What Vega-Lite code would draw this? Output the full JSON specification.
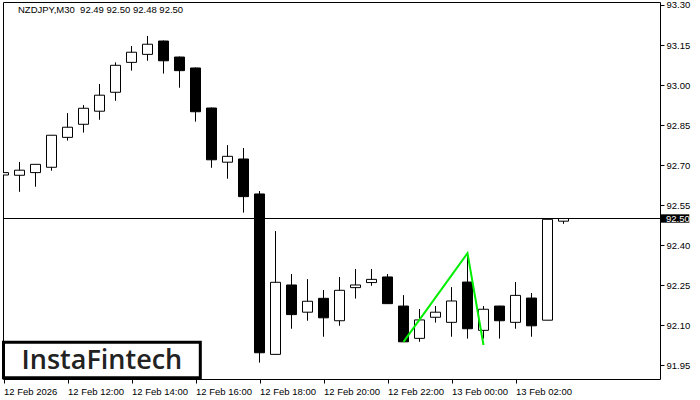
{
  "$schema": "https://vega.github.io/schema/vega-lite/v6.json",
  "width": 657,
  "height": 377,
  "autosize": {"type": "none"},
  "padding": {"left": 3, "top": 2, "right": 40, "bottom": 21},
  "background": "white",
  "config": {"view": {"stroke": "black", "strokeWidth": 1}, "font": "Liberation Sans"},
  "title": {"text": "NZDJPY,M30\u00a0\u00a092.49 92.50 92.48 92.50", "anchor": "start", "frame": "group", "orient": "top", "offset": -15, "dx": 15, "fontSize": 9.5, "fontWeight": "normal", "color": "black", "font": "Liberation Sans"},
  "datasets": {
    "candles": [
      {"t": "2026-02-12T10:00:00Z", "open": 92.663, "high": 92.694, "low": 92.559, "close": 92.672},
      {"t": "2026-02-12T10:30:00Z", "open": 92.662, "high": 92.712, "low": 92.600, "close": 92.681},
      {"t": "2026-02-12T11:00:00Z", "open": 92.672, "high": 92.704, "low": 92.619, "close": 92.703},
      {"t": "2026-02-12T11:30:00Z", "open": 92.692, "high": 92.813, "low": 92.679, "close": 92.812},
      {"t": "2026-02-12T12:00:00Z", "open": 92.804, "high": 92.895, "low": 92.792, "close": 92.842},
      {"t": "2026-02-12T12:30:00Z", "open": 92.853, "high": 92.925, "low": 92.822, "close": 92.913},
      {"t": "2026-02-12T13:00:00Z", "open": 92.902, "high": 93.004, "low": 92.870, "close": 92.962},
      {"t": "2026-02-12T13:30:00Z", "open": 92.973, "high": 93.085, "low": 92.941, "close": 93.074},
      {"t": "2026-02-12T14:00:00Z", "open": 93.085, "high": 93.146, "low": 93.054, "close": 93.123},
      {"t": "2026-02-12T14:30:00Z", "open": 93.115, "high": 93.184, "low": 93.091, "close": 93.153},
      {"t": "2026-02-12T15:00:00Z", "open": 93.165, "high": 93.167, "low": 93.043, "close": 93.091},
      {"t": "2026-02-12T15:30:00Z", "open": 93.105, "high": 93.107, "low": 92.990, "close": 93.054},
      {"t": "2026-02-12T16:00:00Z", "open": 93.064, "high": 93.066, "low": 92.863, "close": 92.900},
      {"t": "2026-02-12T16:30:00Z", "open": 92.914, "high": 92.916, "low": 92.690, "close": 92.720},
      {"t": "2026-02-12T17:00:00Z", "open": 92.711, "high": 92.775, "low": 92.649, "close": 92.733},
      {"t": "2026-02-12T17:30:00Z", "open": 92.723, "high": 92.764, "low": 92.522, "close": 92.582},
      {"t": "2026-02-12T18:00:00Z", "open": 92.592, "high": 92.603, "low": 91.960, "close": 91.997},
      {"t": "2026-02-12T18:30:00Z", "open": 91.991, "high": 92.453, "low": 91.989, "close": 92.261},
      {"t": "2026-02-12T19:00:00Z", "open": 92.251, "high": 92.292, "low": 92.087, "close": 92.140},
      {"t": "2026-02-12T19:30:00Z", "open": 92.149, "high": 92.273, "low": 92.117, "close": 92.190},
      {"t": "2026-02-12T20:00:00Z", "open": 92.201, "high": 92.232, "low": 92.057, "close": 92.128},
      {"t": "2026-02-12T20:30:00Z", "open": 92.117, "high": 92.281, "low": 92.098, "close": 92.231},
      {"t": "2026-02-12T21:00:00Z", "open": 92.241, "high": 92.311, "low": 92.200, "close": 92.251},
      {"t": "2026-02-12T21:30:00Z", "open": 92.260, "high": 92.311, "low": 92.248, "close": 92.272},
      {"t": "2026-02-12T22:00:00Z", "open": 92.281, "high": 92.292, "low": 92.180, "close": 92.181},
      {"t": "2026-02-12T22:30:00Z", "open": 92.172, "high": 92.213, "low": 92.037, "close": 92.038},
      {"t": "2026-02-12T23:00:00Z", "open": 92.051, "high": 92.161, "low": 92.038, "close": 92.120},
      {"t": "2026-02-12T23:30:00Z", "open": 92.130, "high": 92.172, "low": 92.110, "close": 92.149},
      {"t": "2026-02-13T00:00:00Z", "open": 92.111, "high": 92.243, "low": 92.057, "close": 92.191},
      {"t": "2026-02-13T00:30:00Z", "open": 92.262, "high": 92.363, "low": 92.050, "close": 92.087},
      {"t": "2026-02-13T01:00:00Z", "open": 92.081, "high": 92.172, "low": 92.050, "close": 92.160},
      {"t": "2026-02-13T01:30:00Z", "open": 92.172, "high": 92.173, "low": 92.050, "close": 92.117},
      {"t": "2026-02-13T02:00:00Z", "open": 92.111, "high": 92.262, "low": 92.087, "close": 92.212},
      {"t": "2026-02-13T02:30:00Z", "open": 92.202, "high": 92.221, "low": 92.057, "close": 92.098},
      {"t": "2026-02-13T03:00:00Z", "open": 92.119, "high": 92.500, "low": 92.119, "close": 92.497},
      {"t": "2026-02-13T03:30:00Z", "open": 92.490, "high": 92.500, "low": 92.480, "close": 92.500}
    ],
    "pattern": [
      {"t": "2026-02-12T22:30:00Z", "p": 92.038},
      {"t": "2026-02-13T00:30:00Z", "p": 92.370},
      {"t": "2026-02-13T01:00:00Z", "p": 92.026}
    ]
  },
  "layer": [
    {
      "data": {"name": "candles"},
      "mark": {"type": "rule", "color": "black", "strokeWidth": 1, "clip": true},
      "encoding": {
        "x": {
          "field": "t", "type": "temporal", "title": null,
          "scale": {"type": "utc", "padding": 0, "nice": false, "domain": [
            {"year": 2026, "month": 2, "date": 12, "hours": 9, "minutes": 59, "seconds": 3, "milliseconds": 750, "utc": true},
            {"year": 2026, "month": 2, "date": 13, "hours": 6, "minutes": 30, "seconds": 56, "milliseconds": 250, "utc": true}
          ]},
          "axis": {
            "orient": "bottom", "title": null, "grid": false, "domain": false,
            "values": [
              {"year": 2026, "month": 2, "date": 12, "hours": 10, "utc": true},
              {"year": 2026, "month": 2, "date": 12, "hours": 12, "utc": true},
              {"year": 2026, "month": 2, "date": 12, "hours": 14, "utc": true},
              {"year": 2026, "month": 2, "date": 12, "hours": 16, "utc": true},
              {"year": 2026, "month": 2, "date": 12, "hours": 18, "utc": true},
              {"year": 2026, "month": 2, "date": 12, "hours": 20, "utc": true},
              {"year": 2026, "month": 2, "date": 12, "hours": 22, "utc": true},
              {"year": 2026, "month": 2, "date": 13, "hours": 0, "utc": true},
              {"year": 2026, "month": 2, "date": 13, "hours": 2, "utc": true}
            ],
            "labelExpr": "utchours(datum.value) == 10 ? '12 Feb 2026' : utcFormat(datum.value, '%d %b %H:%M')",
            "labelAlign": "left", "labelBaseline": "top", "labelPadding": 3,
            "tickSize": 4, "tickColor": "black", "labelColor": "black",
            "labelFontSize": 9.5, "labelFont": "Liberation Sans",
            "labelOverlap": false, "labelFlush": false
          }
        },
        "y": {
          "field": "low", "type": "quantitative", "title": null,
          "scale": {"domain": [91.8987, 93.3112], "nice": false, "zero": false, "padding": 0},
          "axis": {
            "orient": "right", "title": null, "grid": false, "domain": false,
            "values": [91.95, 92.1, 92.25, 92.4, 92.55, 92.7, 92.85, 93.0, 93.15, 93.3],
            "format": ".2f", "tickSize": 4, "tickColor": "black", "labelColor": "black",
            "labelPadding": 2, "labelFontSize": 9.5, "labelFont": "Liberation Sans",
            "labelBaseline": "middle", "labelOverlap": false, "labelFlush": false
          }
        },
        "y2": {"field": "high"}
      }
    },
    {
      "data": {"name": "candles"},
      "mark": {"type": "bar", "width": 10, "stroke": "black", "strokeWidth": 1, "clip": true},
      "encoding": {
        "x": {"field": "t", "type": "temporal", "title": null},
        "y": {"field": "open", "type": "quantitative", "title": null},
        "y2": {"field": "close"},
        "fill": {"condition": {"test": "datum.close > datum.open", "value": "white"}, "value": "black"}
      }
    },
    {
      "data": {"values": [{"price": 92.5, "label": "92.50"}]},
      "mark": {"type": "rule", "color": "black", "strokeWidth": 1},
      "encoding": {
        "y": {"field": "price", "type": "quantitative", "title": null}
      }
    },
    {
      "data": {"values": [{"price": 92.5, "label": "92.50"}]},
      "mark": {"type": "rect", "fill": "black", "clip": false},
      "encoding": {
        "x": {"datum": {"year": 2026, "month": 2, "date": 13, "hours": 6, "minutes": 32, "seconds": 49, "utc": true}, "type": "temporal", "title": null},
        "x2": {"datum": {"year": 2026, "month": 2, "date": 13, "hours": 7, "minutes": 25, "seconds": 52, "utc": true}},
        "y": {"datum": 92.5157, "type": "quantitative", "title": null},
        "y2": {"datum": 92.4843}
      }
    },
    {
      "data": {"values": [{"price": 92.5, "label": "92.50"}]},
      "mark": {"type": "text", "color": "white", "align": "left", "baseline": "middle", "fontSize": 9.5, "font": "Liberation Sans", "clip": false},
      "encoding": {
        "x": {"datum": {"year": 2026, "month": 2, "date": 13, "hours": 6, "minutes": 42, "seconds": 12, "utc": true}, "type": "temporal", "title": null},
        "y": {"field": "price", "type": "quantitative", "title": null},
        "text": {"field": "label"}
      }
    },
    {
      "data": {"name": "pattern"},
      "mark": {"type": "line", "color": "#00ee00", "strokeWidth": 2, "clip": true},
      "encoding": {
        "x": {"field": "t", "type": "temporal", "title": null},
        "y": {"field": "p", "type": "quantitative", "title": null}
      }
    },
    {
      "data": {"values": [{"label": "InstaFintech"}]},
      "mark": {"type": "rect", "fill": "white", "stroke": "black", "strokeWidth": 3, "clip": false},
      "encoding": {
        "x": {"datum": {"year": 2026, "month": 2, "date": 12, "hours": 10, "minutes": 0, "utc": true}, "type": "temporal", "title": null},
        "x2": {"datum": {"year": 2026, "month": 2, "date": 12, "hours": 16, "minutes": 9, "utc": true}},
        "y": {"datum": 92.0366, "type": "quantitative", "title": null},
        "y2": {"datum": 91.9036}
      }
    },
    {
      "data": {"values": [{"label": "InstaFintech"}]},
      "mark": {"type": "text", "color": "#222222", "align": "center", "baseline": "alphabetic", "fontSize": 27, "font": "Open Sans", "fontWeight": 600, "clip": false},
      "encoding": {
        "x": {"datum": {"year": 2026, "month": 2, "date": 12, "hours": 13, "minutes": 4, "seconds": 29, "utc": true}, "type": "temporal", "title": null},
        "y": {"datum": 91.937, "type": "quantitative", "title": null},
        "text": {"field": "label"}
      }
    }
  ]
}
